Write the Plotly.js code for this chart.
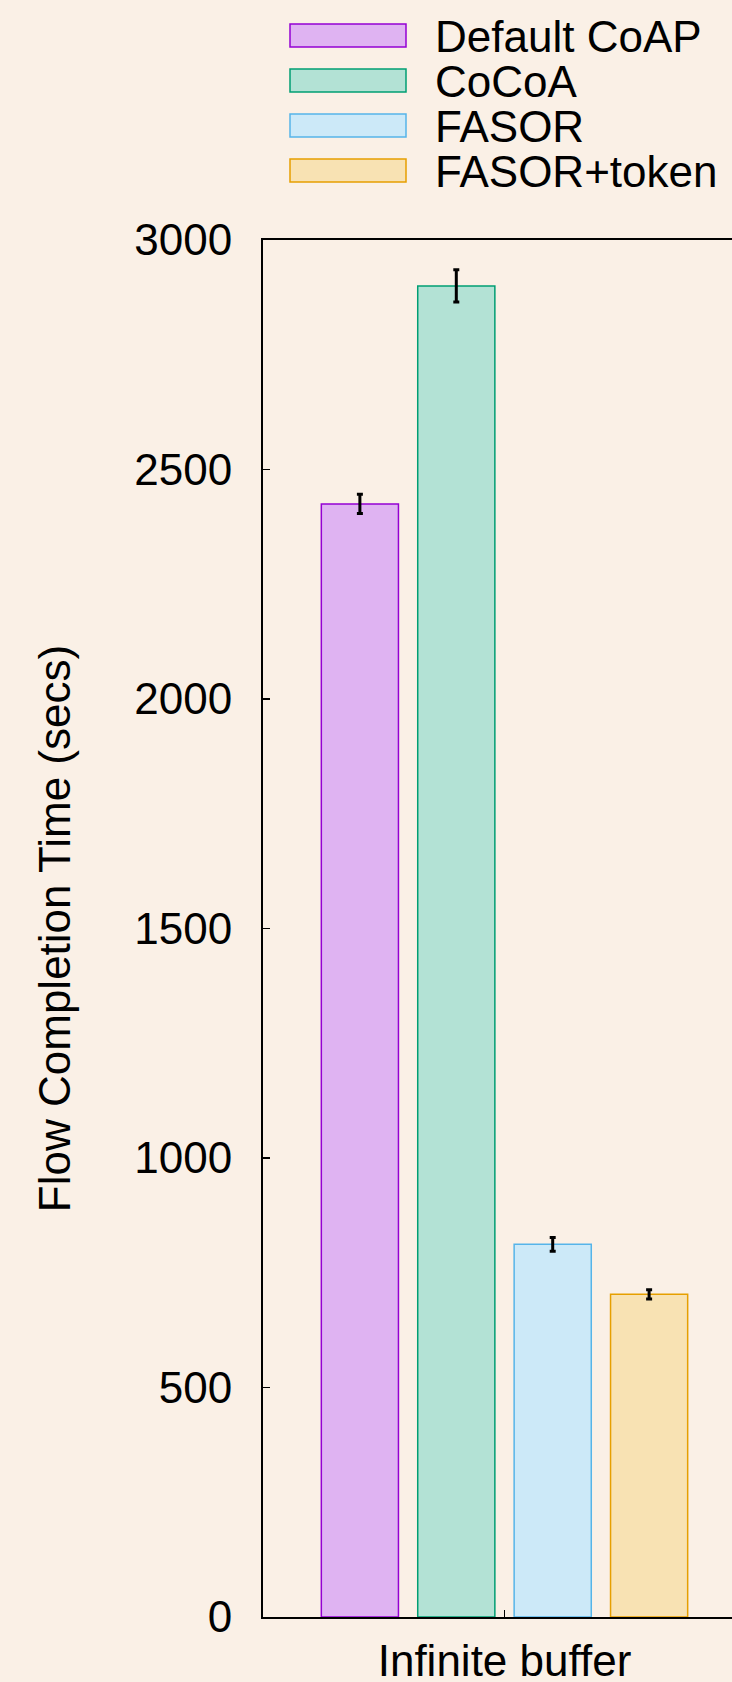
<!DOCTYPE html>
<html>
<head>
<meta charset="utf-8">
<script src="https://cdn.plot.ly/plotly-3.0.1.min.js"></script>
<style>
  html, body { margin: 0; padding: 0; background: #faf0e6; overflow: hidden; width: 732px; height: 1682px; }
  #chart { width: 760px; height: 1682px; }
</style>
</head>
<body>
<div id="chart"></div>
<script>
// ---- data ----
const categories = ["Infinite buffer"];
const seriesNames = ["Default CoAP", "CoCoA", "FASOR", "FASOR+token"];
const defaultCoap = [2425];
const cocoa = [2900];
const fasor = [812];
const fasorToken = [703];
const defaultCoapErr = [21];
const cocoaErr = [35];
const fasorErr = [15];
const fasorTokenErr = [10];
const yTickVals = [0, 500, 1000, 1500, 2000, 2500, 3000];

// ---- styles ----
const lineColors = ["#9400d3", "#009e73", "#56b4e9", "#e69f00"];
const fillColors = ["#dfb3f2", "#b3e2d5", "#cce9f8", "#f8e2b3"];
const bg = "#faf0e6";
const fontFam = "Liberation Sans, Arial, Helvetica, sans-serif";

const values = [defaultCoap, cocoa, fasor, fasorToken];
const errs = [defaultCoapErr, cocoaErr, fasorErr, fasorTokenErr];

const traces = seriesNames.map((name, i) => ({
  type: "bar",
  name: name,
  x: categories,
  y: values[i],
  marker: { color: fillColors[i], line: { color: lineColors[i], width: 1.5 } },
  error_y: { type: "data", array: errs[i], visible: true, color: "#000", thickness: 3, width: 3 },
  showlegend: false,
  hoverinfo: "name+y"
}));

// manual legend (wide swatches like the original)
const W = 760, H = 1682, ml = 263, mr = 14, mt = 240, mb = 65;
const pw = W - ml - mr, ph = H - mt - mb;
const px2x = p => (p - ml) / pw;
const py2y = p => (H - mb - p) / ph;
const shapes = [], annotations = [];
seriesNames.forEach((name, i) => {
  const cy = 35.5 + 45 * i;
  shapes.push({
    type: "rect", xref: "paper", yref: "paper", layer: "above",
    x0: px2x(290), x1: px2x(406), y0: py2y(cy + 11.5), y1: py2y(cy - 11.5),
    fillcolor: fillColors[i], line: { color: lineColors[i], width: 1.5 }
  });
  annotations.push({
    xref: "paper", yref: "paper", x: px2x(433), y: py2y(cy + 1),
    xanchor: "left", yanchor: "middle", showarrow: false,
    text: name, font: { family: fontFam, size: 44, color: "#000" }
  });
});

const layout = {
  width: W, height: H,
  margin: { l: ml, r: mr, t: mt, b: mb, pad: 0 },
  paper_bgcolor: bg, plot_bgcolor: bg,
  font: { family: fontFam, size: 44, color: "#000" },
  barmode: "group",
  bargap: 0.2016,
  bargroupgap: 0.2,
  showlegend: false,
  xaxis: {
    type: "category",
    range: [-0.5, 0.5],
    showline: true, mirror: true, linecolor: "#000", linewidth: 2,
    ticks: "inside", ticklen: 7, tickwidth: 1.5, tickcolor: "#000",
    showgrid: false, zeroline: false,
    tickfont: { family: fontFam, size: 44, color: "#000" },
    ticklabelstandoff: 4
  },
  yaxis: {
    range: [0, 3000],
    tickvals: yTickVals,
    showline: true, mirror: true, linecolor: "#000", linewidth: 2,
    ticks: "inside", ticklen: 7, tickwidth: 1.5, tickcolor: "#000",
    showgrid: false, zeroline: false,
    tickfont: { family: fontFam, size: 44, color: "#000" },
    ticklabelstandoff: 20,
    title: { text: "Flow Completion Time (secs)", font: { family: fontFam, size: 44, color: "#000" }, standoff: 50 }
  },
  shapes: shapes,
  annotations: annotations
};

Plotly.newPlot("chart", traces, layout, { displayModeBar: false, staticPlot: true });
</script>
</body>
</html>
